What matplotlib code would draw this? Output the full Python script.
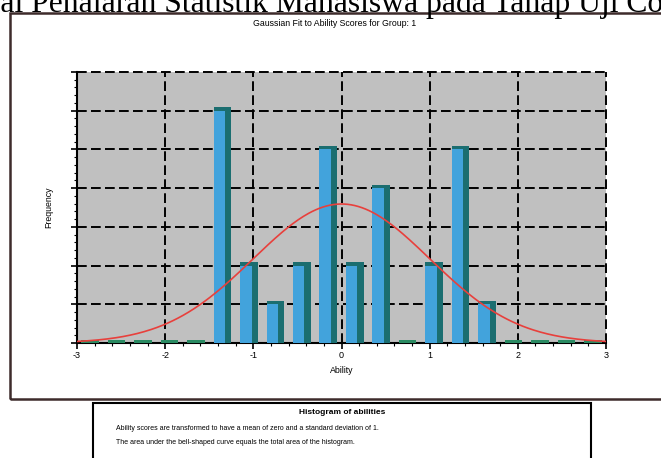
import matplotlib.pyplot as plt
import numpy as np
from matplotlib.patches import Rectangle
from matplotlib.ticker import MultipleLocator, NullFormatter

# histogram data (bin centres of width 0.3, counts)
bin_centers = [-2.85, -2.55, -2.25, -1.95, -1.65, -1.35, -1.05, -0.75, -0.45, -0.15,
               0.15, 0.45, 0.75, 1.05, 1.35, 1.65, 1.95, 2.25, 2.55, 2.85]
counts = [0, 0, 0, 0, 0, 6, 2, 1, 2, 5, 2, 4, 0, 2, 5, 1, 0, 0, 0, 0]
bin_width = 0.3
fit_mean = 0.0
fit_sd = 1.0
x_ticks = [-3, -2, -1, 0, 1, 2, 3]

chart_title = "Gaussian Fit to Ability Scores for Group: 1"
page_text = "Nilai Penalaran Statistik Mahasiswa pada Tahap Uji Coba"
box_title = "Histogram of abilities"
box_lines = ["Ability scores are transformed to have a mean of zero and a standard deviation of 1.",
             "The area under the bell-shaped curve equals the total area of the histogram."]

plt.rcParams['font.family'] = ['Liberation Sans', 'DejaVu Sans']

W, H = 661, 458
fig = plt.figure(figsize=(W / 100, H / 100), dpi=100)
fig.patch.set_facecolor('white')

def fx(px):
    return px / W

def fy(py):
    return 1 - py / H

# page text cut off at top
fig.text(fx(-40), fy(12), page_text, fontsize=22.8, family='Liberation Serif',
         ha='left', va='baseline', color='black')

# outer chart frame (right edge off the page)
fig.add_artist(Rectangle((fx(10), fy(399)), fx(680) - fx(10), fy(13) - fy(399),
                         transform=fig.transFigure, fill=False, lw=1.8,
                         edgecolor='#3d2b2b'))

fig.text(fx(335), fy(23), chart_title, fontsize=6.3, ha='center', va='center')

ax = fig.add_axes([fx(77), fy(343), fx(606) - fx(77), fy(72) - fy(343)])
ax.set_facecolor('#c0c0c0')

# 3d-ish bars: teal back part, blue front face
depth = 0.09
bar_w = 0.2
for c, n in zip(bin_centers, counts):
    ax.bar(c, n + depth, width=bar_w, color='#1b6e70' if n > 0 else '#2a8a62',
           align='center', zorder=3)
    if n > 0:
        ax.bar(c - 0.035, n, width=bar_w - 0.07, color='#42a3dc', zorder=4)

# gaussian fit scaled to histogram area
xs = np.linspace(-3, 3, 300)
total = sum(counts)
ys = total * bin_width * np.exp(-0.5 * ((xs - fit_mean) / fit_sd) ** 2) / (fit_sd * np.sqrt(2 * np.pi))
ax.plot(xs, ys, color='#e8403c', lw=1.2, zorder=5)

ax.set_xlim(-3, 3)
ax.set_ylim(0, 7)
ax.set_xticks(x_ticks)
ax.set_xticklabels([str(t) for t in x_ticks])
ax.xaxis.set_minor_locator(MultipleLocator(0.2))
ax.yaxis.set_major_locator(MultipleLocator(1))
ax.yaxis.set_minor_locator(MultipleLocator(0.2))
ax.yaxis.set_major_formatter(NullFormatter())
ax.tick_params(axis='both', which='major', length=4, width=1.2, labelsize=6.5, pad=2)
ax.tick_params(axis='both', which='minor', length=2.5, width=0.8)

ax.grid(True, which='major', color='black', lw=1.4, linestyle=(0, (5, 2.2)), zorder=2)
ax.set_axisbelow(True)
for gl in ax.get_xgridlines() + ax.get_ygridlines():
    gl.set_clip_on(False)

for s in ['top', 'right']:
    ax.spines[s].set_visible(False)
ax.spines['left'].set_linewidth(1.5)
ax.spines['bottom'].set_linewidth(1.5)

ax.set_xlabel("Ability", fontsize=6.3, labelpad=4)
ax.set_ylabel("Frequency", fontsize=6.3, labelpad=11)

# note box below chart (bottom edge off the page)
fig.add_artist(Rectangle((fx(93), fy(480)), fx(591) - fx(93), fy(403) - fy(480),
                         transform=fig.transFigure, fill=False, lw=1.5, edgecolor='black'))
fig.text(fx(342), fy(413), box_title, fontsize=6, weight='bold', ha='center', va='center')
fig.text(fx(116), fy(428), box_lines[0], fontsize=5, ha='left', va='center')
fig.text(fx(116), fy(442), box_lines[1], fontsize=5, ha='left', va='center')

fig.savefig('out.png', dpi=100)
